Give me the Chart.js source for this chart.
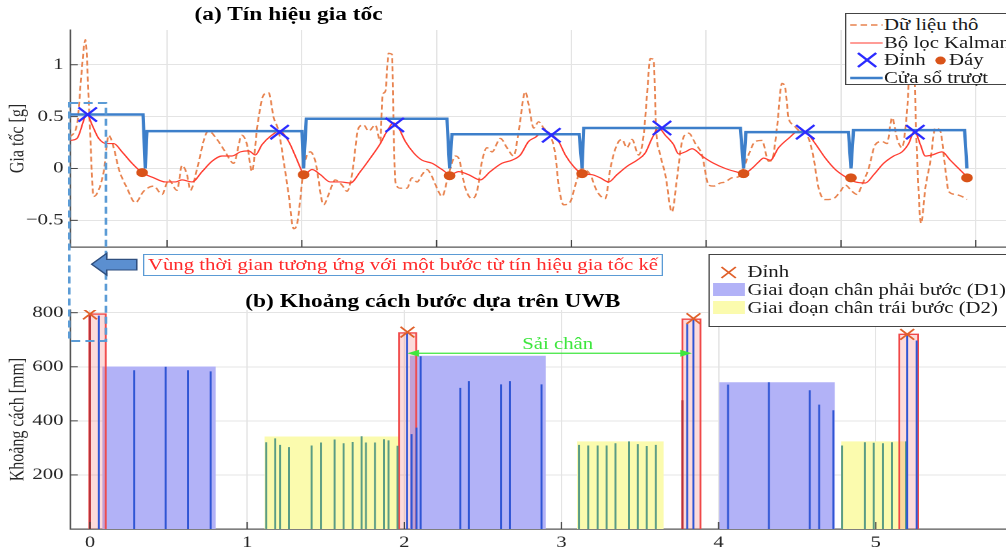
<!DOCTYPE html>
<html lang="vi">
<head>
<meta charset="utf-8">
<title>Tín hiệu gia tốc và khoảng cách bước UWB</title>
<script src="https://cdn.jsdelivr.net/npm/chart.js@4.4.1/dist/chart.umd.min.js"></script>
<style>
  html, body { margin: 0; padding: 0; background: #fff; overflow: hidden; }
  /* the source figure is stretched sideways, so the whole stage is too */
  #stage { position: relative; width: 774px; height: 551px; transform: scaleX(1.3); transform-origin: 0 0;
           font-family: "Liberation Serif", "Times New Roman", serif; color: #1a1a1a; }
  .plot { position: absolute; left: 0; width: 774px; }
  .title { position: absolute; width: 440px; text-align: center; font-weight: bold; font-size: 18px; line-height: 20px; color: #000; }
  .legend { position: absolute; background: #fff; border: 1px solid #444; font-size: 16px; box-sizing: border-box; }
  .legend .item { position: absolute; height: 18px; line-height: 18px; white-space: nowrap; }
  .legend svg { position: absolute; }
  .note { position: absolute; left: 110px; top: 254px; width: 400px; height: 22px; box-sizing: border-box;
          border: 1.5px solid #5b9bd5; color: #ff2a2a; font-size: 16px; line-height: 19px; text-align: center; white-space: nowrap; }
  .stride { position: absolute; left: 389px; top: 334px; width: 80px; text-align: center; color: #3ee63e; font-size: 16px; line-height: 20px; }
  #overlay { position: absolute; left: 0; top: 0; pointer-events: none; }
</style>
</head>
<body>
<div id="stage">
  <div class="plot" style="top:0;height:250px"><canvas id="accChart"></canvas></div>
  <div class="plot" style="top:250px;height:301px"><canvas id="uwbChart"></canvas></div>

  <div class="title" style="left:2px;top:4px">(a) Tín hiệu gia tốc</div>
  <div class="title" style="left:113px;top:291px">(b) Khoảng cách bước dựa trên UWB</div>

  <div class="legend" style="left:650px;top:13px;width:150px;height:72px">
    <svg style="left:2px;top:0" width="28" height="70">
      <line x1="1" y1="11" x2="26" y2="11" stroke="#e8834f" stroke-width="1.4" stroke-dasharray="5 3"/>
      <line x1="1" y1="29" x2="26" y2="29" stroke="#ff3b2f" stroke-width="1.2"/>
      <line x1="7" y1="39" x2="21" y2="53" stroke="#2b2bff" stroke-width="2"/>
      <line x1="21" y1="39" x2="7" y2="53" stroke="#2b2bff" stroke-width="2"/>
      <line x1="1" y1="64" x2="26" y2="64" stroke="#3d7fca" stroke-width="2.5"/>
    </svg>
    <svg style="left:66px;top:40px" width="14" height="14"><circle cx="6.5" cy="6.5" r="4" fill="#d95319"/></svg>
    <span class="item" style="left:29px;top:2px">Dữ liệu thô</span>
    <span class="item" style="left:29px;top:20px">Bộ lọc Kalman</span>
    <span class="item" style="left:29px;top:37px">Đỉnh</span>
    <span class="item" style="left:79px;top:37px">Đáy</span>
    <span class="item" style="left:29px;top:55px">Cửa sổ trượt</span>
  </div>

  <div class="note">Vùng thời gian tương ứng với một bước từ tín hiệu gia tốc kế</div>

  <div class="legend" style="left:545px;top:254px;width:250px;height:73px">
    <svg style="left:0;top:0" width="30" height="70">
      <line x1="9" y1="12" x2="20" y2="23" stroke="#e0602a" stroke-width="1.6"/>
      <line x1="20" y1="12" x2="9" y2="23" stroke="#e0602a" stroke-width="1.6"/>
      <rect x="2.5" y="28" width="24.5" height="13" fill="#b2b2f7"/>
      <rect x="2.5" y="46" width="24.5" height="13" fill="#fbfbae"/>
    </svg>
    <span class="item" style="left:29px;top:8px">Đỉnh</span>
    <span class="item" style="left:29px;top:26px">Giai đoạn chân phải bước (D1)</span>
    <span class="item" style="left:29px;top:44px">Giai đoạn chân trái bước (D2)</span>
  </div>

  <div class="stride">Sải chân</div>

  <svg id="overlay" width="774" height="551">
    <rect x="53.3" y="103" width="28.2" height="238" fill="none" stroke="#5b9bd5" stroke-width="2" stroke-dasharray="7 4"/>
    <polygon points="70.5,264.2 82.1,253.3 82.1,259.3 105.2,259.3 105.2,270 82.1,270 82.1,275"
             fill="#5b8fd0" stroke="#2f4f7f" stroke-width="1.2"/>
  </svg>
</div>

<script>
// ---- (a) acceleration signal, x in samples ----
const rawT = [28, 33.5, 36.4, 39.4, 42.4, 45.5, 53, 56.7, 60.4, 64.1,
  70.3, 76.5, 82.6, 90.1, 96.3, 101.2, 107.4, 111.1, 114.8, 117.3,
  122.3, 128.4, 130.9, 137.1, 143.2, 149.4, 155.6, 159.3, 163.1, 166.8,
  171.7, 175.4, 179.1, 182.8, 186.5, 190.2, 193.9, 196.4, 198.9, 201.3,
  206.3, 210, 216.2, 219.9, 224.8, 229.8, 233.5, 237.2, 242.1, 245.8,
  249.6, 254.5, 258.2, 259.9, 261.9, 264.4, 266.9, 268.1, 269.4, 273.1,
  278, 281.7, 285.5, 289.2, 292.9, 296.6, 300.3, 304, 308.9, 313.9,
  316.3, 321.3, 326.3, 330, 333.7, 337.4, 341.1, 347.3, 352.2, 357.2,
  360.9, 365.8, 368.2, 372, 375.7, 379.4, 384.4, 388.1, 390.5, 394.2,
  399.2, 402.9, 407.9, 414, 419, 425.2, 428.9, 433.8, 437.5, 441.2,
  445, 449.9, 453.6, 456.1, 458.5, 461, 462.8, 466, 469.7, 474.6,
  478.4, 482.1, 487, 492, 496.9, 501.8, 505.5, 510.5, 514.2, 519.1,
  524, 527.7, 531.4, 536.4, 541.4, 546.3, 548.8, 552.5, 556.2, 558.7,
  561.1, 564.8, 568.6, 572.3, 576, 579.7, 583.4, 588.4, 594.5, 599.6,
  603.2, 608.2, 611.9, 615.6, 620.5, 625.5, 630.5, 634.2, 637.9, 641.6,
  645.3, 649, 651.5, 653.9, 656.4, 659.4, 662.6, 666.3, 670, 673.7,
  677.4, 679.9, 684.9, 689.8, 693.5];
const rawG = [0.30, 0.45, 0.9, 1.24, 0.5, -0.27, -0.03, 0.32, 0.2, 0.0,
  -0.19, -0.33, -0.22, -0.17, -0.25, -0.11, -0.21, 0.03, -0.06, -0.21,
  0, 0.32, 0.36, 0.28, 0.16, 0.05, 0.32, 0.23, -0.03, 0.39,
  0.71, 0.73, 0.49, 0.36, 0.07, -0.25, -0.58, -0.54, -0.29, 0,
  0.16, 0.07, -0.35, -0.25, -0.11, -0.16, -0.22, -0.06, 0.39, 0.42,
  0.36, 0.42, 0.26, 0.71, 0.74, 1.11, 1.10, 0.39, -0.13, -0.19,
  -0.19, -0.09, -0.13, -0.06, -0.01, -0.08, -0.19, -0.27, -0.06, 0.12,
  0.10, -0.19, -0.29, -0.22, 0.07, 0.2, 0.16, 0.29, 0.2, 0.12,
  0.36, 0.74, 0.62, 0.39, 0.45, 0.39, 0.32, 0.13, -0.16, -0.35,
  -0.32, -0.16, 0, -0.06, -0.22, -0.29, 0, 0.23, 0.28, 0.2,
  0.28, 0.13, 0.32, 0.71, 1.06, 1.05, 0.39, 0.13, -0.06, -0.42,
  -0.09, 0.26, 0.34, 0.24, 0.13, -0.16, -0.17, -0.14, -0.13, -0.09,
  -0.08, 0, 0.13, 0.26, 0.27, 0.07, 0.08, 0.39, 0.82, 0.77,
  0.49, 0.42, 0.37, 0.36, 0.29, 0.1, -0.19, -0.30, -0.29, -0.22,
  -0.16, -0.22, -0.25, -0.16, 0, 0.23, 0.26, 0.24, 0.49, 0.29,
  0.2, 0.55, 1.02, 1.0, 0.13, -0.53, -0.19, 0.07, 0.39, 0.36,
  0, -0.22, -0.25, -0.27, -0.30];

const kalT = [28.3, 33.2, 40.7, 44.4, 49.3, 55.5, 60.4, 66.6, 74, 81.5,
  90.1, 98.7, 106.2, 111.1, 118.5, 126, 133.4, 140.8, 148.2, 154.4,
  160.5, 165.5, 170.5, 176.6, 183.5, 190.2, 195.2, 200.1, 201.3, 207.6,
  213.8, 221.1, 228.6, 236, 243.4, 250.8, 258.2, 263.2, 268.1, 271.8,
  276.8, 283, 289.2, 296.6, 304, 310.2, 316.3, 323.7, 332.4, 339.8,
  348.5, 355.9, 362.1, 368.2, 373.2, 376.9, 385.6, 390.5, 395.5, 401.6,
  407.9, 415.3, 421.4, 427.6, 433.8, 441.2, 448.7, 454.8, 459.8, 464.7,
  469.7, 475.8, 479.5, 484.5, 489.6, 496.9, 505.5, 514.2, 521.6, 527.7,
  533.9, 538.7, 542.6, 547.6, 553.7, 561.1, 568.6, 574.8, 580.9, 588.4,
  595.8, 603.2, 610.7, 618.1, 624.3, 631.7, 639.1, 645.3, 650.2, 654.6,
  658.9, 662.6, 667.6, 675, 681.1, 687.3, 693.5];
const kalG = [0.27, 0.29, 0.52, 0.42, 0.29, 0.24, 0.24, 0.16, 0.05, -0.04,
  -0.09, -0.13, -0.13, -0.11, -0.13, -0.03, 0.07, 0.12, 0.12, 0.16,
  0.17, 0.13, 0.23, 0.31, 0.36, 0.26, 0.12, -0.03, -0.06, -0.01,
  -0.06, -0.13, -0.13, -0.14, -0.03, 0.10, 0.24, 0.36, 0.44, 0.39,
  0.26, 0.15, 0.08, 0.05, -0.01, -0.06, -0.03, -0.06, -0.11, -0.03,
  0.05, 0.08, 0.13, 0.26, 0.30, 0.33, 0.32, 0.26, 0.13, 0.02,
  -0.05, -0.06, -0.09, -0.13, -0.06, 0.02, 0.08, 0.15, 0.29, 0.39,
  0.32, 0.23, 0.14, 0.16, 0.19, 0.12, 0.05, 0, -0.03, -0.05,
  0, 0.06, 0.10, 0.08, 0.2, 0.29, 0.36, 0.34, 0.24, 0.10,
  -0.01, -0.08, -0.13, -0.14, -0.06, 0.05, 0.12, 0.16, 0.24, 0.36,
  0.23, 0.12, 0.13, 0.16, 0.08, 0, -0.08];

const peakT = [41.1, 183.5, 268.9, 385.1, 467.2, 573.5, 655.1];
const peakG = [0.52, 0.35, 0.42, 0.32, 0.39, 0.35, 0.35];
const valleyT = [81.5, 201.3, 309.6, 407.9, 527.7, 607.4, 693.5];
const valleyG = [-0.04, -0.06, -0.07, -0.05, -0.05, -0.09, -0.09];

const windowT = [28, 82.2, 83.8, 85.1, 200.1, 201.3, 203.3, 307.7, 309.6, 311.4, 405.8,
  407.9, 409.1, 525.4, 527.7, 529.5, 605.6, 607.4, 609.3, 691.7, 693.5];
const windowG = [0.52, 0.52, 0, 0.36, 0.36, 0, 0.48, 0.48, 0, 0.33, 0.33,
  0, 0.39, 0.39, 0, 0.35, 0.35, 0, 0.37, 0.37, 0];

const accTicksY = [-0.5, 0, 0.5, 1];
const accTicksX = [100, 200, 300, 400, 500, 600, 700];

// ---- (b) UWB step distance, x in steps ----
const peakStart = [-0.004, 1.966, 3.77, 5.15];
const peakEnd = [0.10, 2.076, 3.885, 5.27];
const peakTop = [795, 725, 776, 720];
const peakMarkX = [0.0, 2.02, 3.84, 5.2];
const peakMarkY = [795, 728, 778, 720];

const d1Start = [0.078, 2.036, 4.003];
const d1End = [0.8, 2.901, 4.74];
const d1Top = [601, 641, 543];
const d2Start = [1.11, 3.1, 4.78];
const d2End = [1.966, 3.65, 5.19];
const d2Top = [342, 324, 324];

const d1StemX = [0.057, 0.282, 0.482, 0.625, 0.768, 2.018, 2.046, 2.078, 2.104, 2.356, 2.411,
  2.615, 2.672, 2.873, 3.80, 3.84, 4.06, 4.32, 4.58, 4.64, 4.73, 5.2, 5.26];
const d1StemMm = [789, 587, 600, 587, 583, 725, 351, 375, 639, 522, 547,
  535, 547, 535, 759, 778, 534, 543, 513, 460, 439, 720, 697];
const d2StemX = [1.122, 1.179, 1.209, 1.266, 1.41, 1.469, 1.557, 1.614, 1.671, 1.728, 1.756, 1.813, 1.87, 1.9, 1.957,
  3.111, 3.17, 3.23, 3.287, 3.344, 3.429, 3.486, 3.543, 3.601,
  4.786, 4.93, 4.987, 5.046, 5.104, 5.191];
const d2StemMm = [321, 335, 311, 303, 309, 320, 331, 317, 322, 343, 320, 320, 332, 328, 308,
  311, 309, 309, 309, 317, 324, 314, 307, 311,
  309, 321, 319, 317, 321, 324];
const redStemX = [0.0, 3.77];
const redStemMm = [795, 476];

const strideFrom = 2.02;
const strideTo = 3.83;
const strideLevel = 650;

const uwbTicksY = [200, 400, 600, 800];
const uwbTicksX = [0, 1, 2, 3, 4, 5];

const zip = (xs, ys) => xs.map((x, i) => ({ x: x, y: ys[i] }));
const rect = (x0, x1, h) => [{ x: x0, y: 0 }, { x: x0, y: h }, { x: x1, y: h }, { x: x1, y: 0 }];
const stems = (xs, hs) => {
  const pts = [];
  xs.forEach((x, i) => pts.push({ x: x, y: 0 }, { x: x, y: hs[i] }, { x: x, y: null }));
  return pts;
};
const keepTicks = list => scale => { scale.ticks = list.map(v => ({ value: v })); };
// fixed axis width, and no extra room kept for the tick labels at the ends
const fixWidth = w => s => { s.width = w; s.paddingTop = 0; s.paddingBottom = 0; };

Chart.defaults.font.family = '"Liberation Serif", "Times New Roman", serif';
Chart.defaults.font.size = 16;
Chart.defaults.color = '#262626';

// MATLAB style ticks pointing into the axes
const innerTicks = {
  id: 'innerTicks',
  afterDatasetsDraw(chart) {
    const { ctx, chartArea, scales } = chart;
    ctx.save();
    ctx.strokeStyle = '#444';
    ctx.lineWidth = 1;
    scales.x.ticks.forEach(t => {
      const px = scales.x.getPixelForValue(t.value);
      ctx.beginPath(); ctx.moveTo(px, chartArea.bottom); ctx.lineTo(px, chartArea.bottom - 7); ctx.stroke();
    });
    scales.y.ticks.forEach(t => {
      const py = scales.y.getPixelForValue(t.value);
      ctx.beginPath(); ctx.moveTo(chartArea.left, py); ctx.lineTo(chartArea.left + 6, py); ctx.stroke();
    });
    ctx.restore();
  }
};

const strideArrow = {
  id: 'strideArrow',
  afterDatasetsDraw(chart) {
    const { ctx, scales: { x, y } } = chart;
    const x0 = x.getPixelForValue(strideFrom);
    const x1 = x.getPixelForValue(strideTo);
    const yy = y.getPixelForValue(strideLevel);
    ctx.save();
    ctx.strokeStyle = '#3ee63e';
    ctx.fillStyle = '#3ee63e';
    ctx.lineWidth = 1.2;
    ctx.beginPath(); ctx.moveTo(x0 + 4, yy); ctx.lineTo(x1 - 4, yy); ctx.stroke();
    [[x0, 1], [x1, -1]].forEach(([px, dir]) => {
      ctx.beginPath();
      ctx.moveTo(px, yy);
      ctx.lineTo(px + dir * 9, yy - 3.5);
      ctx.lineTo(px + dir * 9, yy + 3.5);
      ctx.closePath();
      ctx.fill();
    });
    ctx.restore();
  }
};

const gridStyle = { color: '#e4e4e4', lineWidth: 1, drawTicks: false };
const borderStyle = { display: true, color: '#555', width: 1.2 };

new Chart(document.getElementById('accChart'), {
  type: 'line',
  data: {
    datasets: [
      { label: 'Đỉnh', data: zip(peakT, peakG), showLine: false, pointStyle: 'crossRot',
        pointRadius: 10, pointBorderColor: '#2b2bff', pointBorderWidth: 2 },
      { label: 'Đáy', data: zip(valleyT, valleyG), showLine: false, pointStyle: 'circle',
        pointRadius: 4, pointBackgroundColor: '#d95319', pointBorderColor: '#d95319' },
      { label: 'Cửa sổ trượt', data: zip(windowT, windowG), borderColor: '#3d7fca',
        borderWidth: 2.5, pointRadius: 0, tension: 0 },
      { label: 'Bộ lọc Kalman', data: zip(kalT, kalG), borderColor: '#ff3b2f',
        borderWidth: 1.2, pointRadius: 0, cubicInterpolationMode: 'monotone' },
      { label: 'Dữ liệu thô', data: zip(rawT, rawG), borderColor: '#e8834f', borderDash: [5, 3],
        borderWidth: 1.4, pointRadius: 0, cubicInterpolationMode: 'monotone' }
    ]
  },
  options: {
    responsive: true,
    maintainAspectRatio: false,
    animation: false,
    devicePixelRatio: 2,
    layout: { autoPadding: false, padding: { top: 30, right: 0, bottom: 3, left: 0 } },
    plugins: { legend: { display: false }, tooltip: { enabled: false } },
    scales: {
      x: {
        type: 'linear', min: 28, max: 722.6,
        afterBuildTicks: keepTicks(accTicksX),
        afterFit: s => { s.height = 0; },
        ticks: { display: false },
        grid: gridStyle, border: borderStyle
      },
      y: {
        min: -0.757, max: 1.335,
        afterBuildTicks: keepTicks(accTicksY),
        afterFit: fixWidth(53.85),
        ticks: { padding: 5, callback: v => String(v).replace('-', '\u2212') },
        grid: gridStyle, border: borderStyle,
        title: { display: true, text: 'Gia tốc [g]', padding: { top: 4, bottom: 0 }, font: { size: 16 } }
      }
    }
  },
  plugins: [innerTicks]
});

const uwbSets = [
  { label: 'Đỉnh', data: zip(peakMarkX, peakMarkY), showLine: false, pointStyle: 'crossRot',
    pointRadius: 7.5, pointBorderColor: '#e0602a', pointBorderWidth: 1.6 },
  { label: 'red stems', data: stems(redStemX, redStemMm), borderColor: '#b8323a', borderWidth: 1.5, pointRadius: 0 },
  { label: 'D1 stems', data: stems(d1StemX, d1StemMm), borderColor: '#2f55d4', borderWidth: 1.5, pointRadius: 0 },
  { label: 'D2 stems', data: stems(d2StemX, d2StemMm), borderColor: '#5a9c84', borderWidth: 1.5, pointRadius: 0 }
];
peakStart.forEach((x0, i) => uwbSets.push({
  label: 'peak ' + i, data: rect(x0, peakEnd[i], peakTop[i]), fill: 'origin',
  backgroundColor: 'rgba(245,110,110,0.25)', borderColor: '#f04848', borderWidth: 1.4, pointRadius: 0
}));
d1Start.forEach((x0, i) => uwbSets.push({
  label: 'Giai đoạn chân phải bước (D1)', data: rect(x0, d1End[i], d1Top[i]), fill: 'origin',
  backgroundColor: '#b2b2f7', borderColor: '#b2b2f7', borderWidth: 0, pointRadius: 0
}));
d2Start.forEach((x0, i) => uwbSets.push({
  label: 'Giai đoạn chân trái bước (D2)', data: rect(x0, d2End[i], d2Top[i]), fill: 'origin',
  backgroundColor: '#fbfbae', borderColor: '#fbfbae', borderWidth: 0, pointRadius: 0
}));

new Chart(document.getElementById('uwbChart'), {
  type: 'line',
  data: { datasets: uwbSets },
  options: {
    responsive: true,
    maintainAspectRatio: false,
    animation: false,
    devicePixelRatio: 2,
    spanGaps: false,
    layout: { autoPadding: false, padding: { top: 60, right: 0, bottom: 0, left: 0 } },
    plugins: { legend: { display: false }, tooltip: { enabled: false } },
    scales: {
      x: {
        type: 'linear', min: -0.127, max: 5.83,
        afterBuildTicks: keepTicks(uwbTicksX),
        afterFit: s => { s.height = 22; },
        ticks: { padding: 4 },
        grid: gridStyle, border: borderStyle
      },
      y: {
        min: 0, max: 810,
        afterBuildTicks: keepTicks(uwbTicksY),
        afterFit: fixWidth(53.85),
        ticks: { padding: 5 },
        grid: gridStyle, border: borderStyle,
        title: { display: true, text: 'Khoảng cách [mm]', padding: { top: 4, bottom: 0 }, font: { size: 16 } }
      }
    }
  },
  plugins: [innerTicks, strideArrow]
});
</script>
</body>
</html>
